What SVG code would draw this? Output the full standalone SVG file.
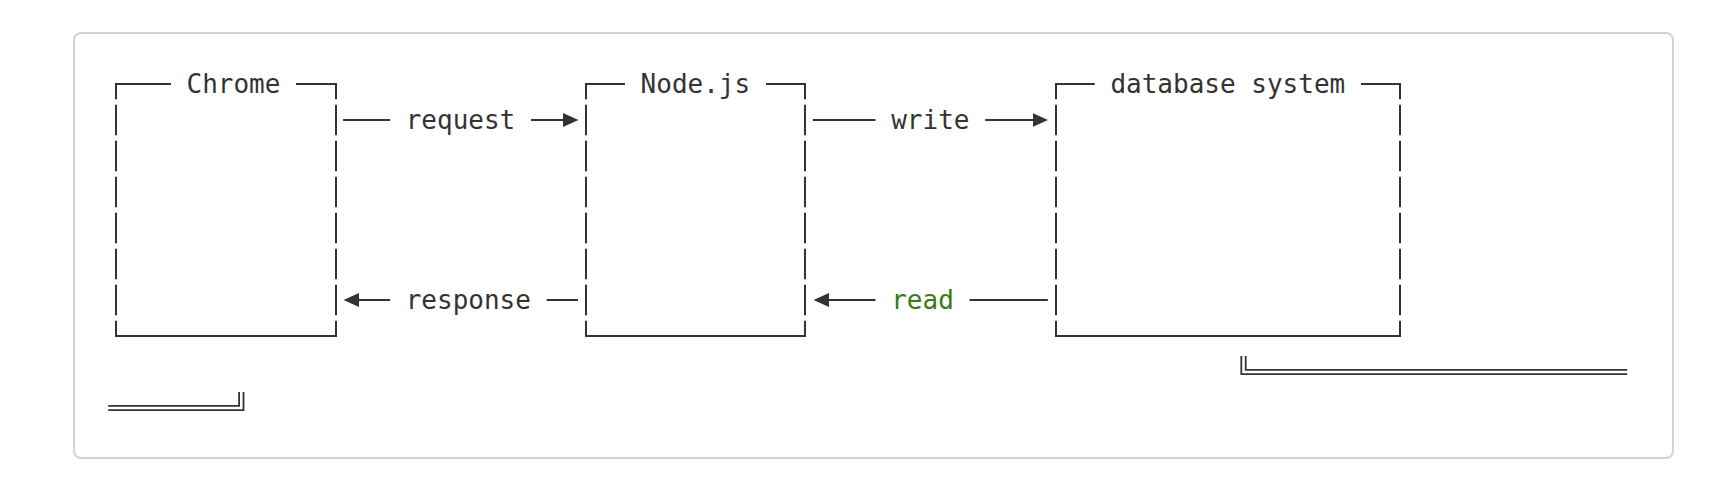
<svg xmlns="http://www.w3.org/2000/svg" width="1736" height="492" viewBox="0 0 1736 492">
  <defs>
    <style>
      .panel { fill: #ffffff; stroke: #d3d3d3; stroke-width: 2; }
      .ln { stroke: #333333; stroke-width: 2; fill: none; }
      .v { stroke-dasharray: 30.3 5.7; stroke-dashoffset: 14.15; }
      .dbl { stroke: #333333; stroke-width: 1.8; fill: none; }
      .t { font-family: "DejaVu Sans Mono", "Liberation Mono", monospace; font-size: 26px; fill: #333333; }
      .green { fill: #3a7a12; }
    </style>
    <marker id="arr" viewBox="0 0 15.5 14" refX="7" refY="7" markerWidth="15.5" markerHeight="14" markerUnits="userSpaceOnUse" orient="auto-start-reverse">
      <path d="M0,0 L15.5,7 L0,14 Z" fill="#333333"/>
    </marker>
  </defs>

  <rect class="panel" x="74" y="33" width="1599" height="425" rx="7" ry="7"/>

  <g id="node-chrome">
    <line class="ln" x1="115" y1="84" x2="171" y2="84"/>
    <line class="ln" x1="296" y1="84" x2="337" y2="84"/>
    <line class="ln v" x1="116" y1="83" x2="116" y2="337"/>
    <line class="ln v" x1="336" y1="83" x2="336" y2="337"/>
    <line class="ln" x1="115" y1="336" x2="337" y2="336"/>
    <text class="t" x="186.5" y="92.5">Chrome</text>
  </g>

  <g id="node-nodejs">
    <line class="ln" x1="585" y1="84" x2="625" y2="84"/>
    <line class="ln" x1="766" y1="84" x2="806" y2="84"/>
    <line class="ln v" x1="586" y1="83" x2="586" y2="337"/>
    <line class="ln v" x1="805" y1="83" x2="805" y2="337"/>
    <line class="ln" x1="585" y1="336" x2="806" y2="336"/>
    <text class="t" x="640.6" y="92.5">Node.js</text>
  </g>

  <g id="node-database">
    <line class="ln" x1="1055" y1="84" x2="1094.8" y2="84"/>
    <line class="ln" x1="1361" y1="84" x2="1401" y2="84"/>
    <line class="ln v" x1="1056" y1="83" x2="1056" y2="337"/>
    <line class="ln v" x1="1400" y1="83" x2="1400" y2="337"/>
    <line class="ln" x1="1055" y1="336" x2="1401" y2="336"/>
    <text class="t" x="1110.4" y="92.5">database system</text>
  </g>

  <g id="connectors">
    <g id="conn-request">
      <line class="ln" x1="343.1" y1="120" x2="390.1" y2="120"/>
      <line class="ln" x1="531" y1="120" x2="570" y2="120" marker-end="url(#arr)"/>
      <text class="t" x="405.7" y="128.5">request</text>
    </g>
    <g id="conn-response">
      <line class="ln" x1="352" y1="300" x2="390.1" y2="300" marker-start="url(#arr)"/>
      <line class="ln" x1="546.7" y1="300" x2="578" y2="300"/>
      <text class="t" x="405.7" y="308.5">response</text>
    </g>
    <g id="conn-write">
      <line class="ln" x1="812.9" y1="120" x2="875.5" y2="120"/>
      <line class="ln" x1="985.2" y1="120" x2="1039.5" y2="120" marker-end="url(#arr)"/>
      <text class="t" x="891.2" y="128.5">write</text>
    </g>
    <g id="conn-read">
      <line class="ln" x1="822" y1="300" x2="875.5" y2="300" marker-start="url(#arr)"/>
      <line class="ln" x1="969.5" y1="300" x2="1047.8" y2="300"/>
      <text class="t green" x="891.2" y="308.5">read</text>
    </g>
  </g>

  <g id="double-lines">
    <path class="dbl" d="M1241.3,356 V374.2 H1627.2"/>
    <path class="dbl" d="M1245.7,356 V369.8 H1627.2"/>
    <path class="dbl" d="M108.2,410.2 H243.5 V392"/>
    <path class="dbl" d="M108.2,405.8 H239.1 V392"/>
  </g>
</svg>
